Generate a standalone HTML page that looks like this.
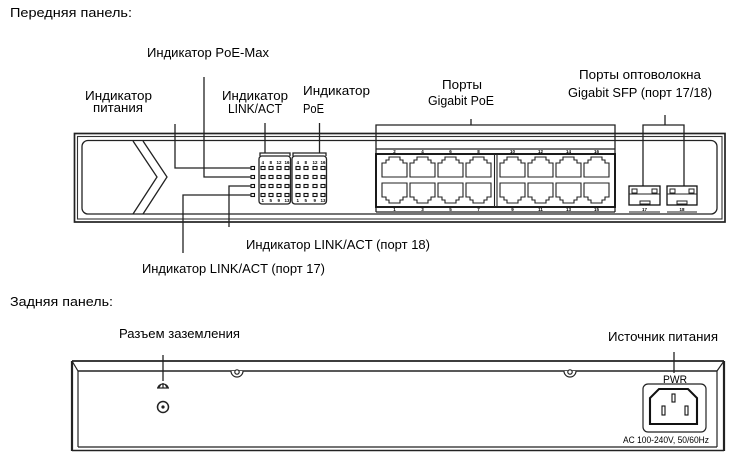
<!DOCTYPE html>
<html><head><meta charset="utf-8"><style>
html,body{margin:0;padding:0;background:#fff;}
svg{display:block;}
text{font-family:"Liberation Sans","Noto Sans CJK SC",sans-serif;fill:#000;}
.l{fill:none;stroke:#222;stroke-width:1.3;}
.t{font-size:13px;}
.n{font-size:4.5px;font-weight:bold;fill:#222;}
</style></head><body>
<svg width="739" height="459" viewBox="0 0 739 459" xmlns="http://www.w3.org/2000/svg">
<!-- labels top -->
<text class="t" x="10" y="17" textLength="122" lengthAdjust="spacingAndGlyphs">Передняя панель:</text>
<text class="t" x="147" y="57" textLength="122" lengthAdjust="spacingAndGlyphs">Индикатор PoE-Max</text>
<text class="t" x="85" y="100" textLength="67" lengthAdjust="spacingAndGlyphs">Индикатор</text>
<text class="t" x="93" y="112" textLength="50" lengthAdjust="spacingAndGlyphs">питания</text>
<text class="t" x="222" y="100" textLength="66" lengthAdjust="spacingAndGlyphs">Индикатор</text>
<text class="t" x="228" y="113" textLength="54" lengthAdjust="spacingAndGlyphs">LINK/ACT</text>
<text class="t" x="303" y="95" textLength="67" lengthAdjust="spacingAndGlyphs">Индикатор</text>
<text class="t" x="303" y="113" textLength="21" lengthAdjust="spacingAndGlyphs">PoE</text>
<text class="t" x="442" y="89" textLength="40" lengthAdjust="spacingAndGlyphs">Порты</text>
<text class="t" x="428" y="105" textLength="66" lengthAdjust="spacingAndGlyphs">Gigabit PoE</text>
<text class="t" x="579" y="79" textLength="122" lengthAdjust="spacingAndGlyphs">Порты оптоволокна</text>
<text class="t" x="568" y="97" textLength="144" lengthAdjust="spacingAndGlyphs">Gigabit SFP (порт 17/18)</text>
<text class="t" x="246" y="249" textLength="184" lengthAdjust="spacingAndGlyphs">Индикатор LINK/ACT (порт 18)</text>
<text class="t" x="142" y="273" textLength="183" lengthAdjust="spacingAndGlyphs">Индикатор LINK/ACT (порт 17)</text>
<text class="t" x="10" y="306" textLength="103" lengthAdjust="spacingAndGlyphs">Задняя панель:</text>
<text class="t" x="119" y="338" textLength="121" lengthAdjust="spacingAndGlyphs">Разъем заземления</text>
<text class="t" x="608" y="341" textLength="110" lengthAdjust="spacingAndGlyphs">Источник питания</text>

<!-- FRONT PANEL -->
<rect x="74.5" y="133.5" width="650.5" height="88.5" fill="none" stroke="#222" stroke-width="1.7"/>
<rect x="77.5" y="136.5" width="644.5" height="82.5" fill="none" stroke="#333" stroke-width="1.1"/>
<rect x="82" y="140.5" width="635" height="73.5" rx="6" fill="none" stroke="#222" stroke-width="1.3"/>
<polyline class="l" points="133,141 157,177 133,214"/>
<polyline class="l" points="143,141 167,177 143,214"/>

<!-- indicator blocks -->
<rect x="259" y="156" width="31.5" height="48" rx="3" fill="none" stroke="#222" stroke-width="1.3"/>
<rect x="292" y="156" width="34.5" height="48" rx="3" fill="none" stroke="#222" stroke-width="1.3"/>
<g fill="none" stroke="#111" stroke-width="1.1">
<rect x="261" y="166.5" width="4" height="3"/><rect x="269" y="166.5" width="4" height="3"/><rect x="277" y="166.5" width="4" height="3"/><rect x="285" y="166.5" width="4" height="3"/>
<rect x="261" y="175.5" width="4" height="3"/><rect x="269" y="175.5" width="4" height="3"/><rect x="277" y="175.5" width="4" height="3"/><rect x="285" y="175.5" width="4" height="3"/>
<rect x="261" y="184.5" width="4" height="3"/><rect x="269" y="184.5" width="4" height="3"/><rect x="277" y="184.5" width="4" height="3"/><rect x="285" y="184.5" width="4" height="3"/>
<rect x="261" y="193.5" width="4" height="3"/><rect x="269" y="193.5" width="4" height="3"/><rect x="277" y="193.5" width="4" height="3"/><rect x="285" y="193.5" width="4" height="3"/>
<rect x="296" y="166.5" width="4" height="3"/><rect x="304" y="166.5" width="4" height="3"/><rect x="313" y="166.5" width="4" height="3"/><rect x="321" y="166.5" width="4" height="3"/>
<rect x="296" y="175.5" width="4" height="3"/><rect x="304" y="175.5" width="4" height="3"/><rect x="313" y="175.5" width="4" height="3"/><rect x="321" y="175.5" width="4" height="3"/>
<rect x="296" y="184.5" width="4" height="3"/><rect x="304" y="184.5" width="4" height="3"/><rect x="313" y="184.5" width="4" height="3"/><rect x="321" y="184.5" width="4" height="3"/>
<rect x="296" y="193.5" width="4" height="3"/><rect x="304" y="193.5" width="4" height="3"/><rect x="313" y="193.5" width="4" height="3"/><rect x="321" y="193.5" width="4" height="3"/>
<rect x="251" y="166.5" width="3.5" height="3"/><rect x="251" y="175.5" width="3.5" height="3"/><rect x="251" y="184.5" width="3.5" height="3"/><rect x="251" y="193.5" width="3.5" height="3"/>
</g>
<g class="n">
<text x="261.5" y="164">4</text><text x="269.5" y="164">8</text><text x="276.5" y="164">12</text><text x="284.5" y="164">16</text>
<text x="296.5" y="164">4</text><text x="304.5" y="164">8</text><text x="312.5" y="164">12</text><text x="320.5" y="164">16</text>
<text x="261.5" y="202">1</text><text x="269.5" y="202">5</text><text x="277.5" y="202">9</text><text x="284.5" y="202">13</text>
<text x="296.5" y="202">1</text><text x="304.5" y="202">5</text><text x="313.5" y="202">9</text><text x="320.5" y="202">13</text>
</g>
<!-- brackets over blocks -->
<polyline class="l" points="260,156 260,153 290,153 290,156"/>
<line class="l" x1="265" y1="123" x2="265" y2="153"/>
<polyline class="l" points="293,156 293,153 326,153 326,156"/>
<line class="l" x1="319.5" y1="123" x2="319.5" y2="153"/>
<!-- connector lines -->
<polyline class="l" points="175,124 175,168 251,168"/>
<polyline class="l" points="204,77 204,177 251,177"/>
<polyline class="l" points="251,186 229,186 229,227"/>
<polyline class="l" points="251,195 183,195 183,253"/>

<!-- RJ45 block -->
<polyline class="l" points="376,148 376,125 615,125 615,148"/>
<line class="l" x1="471" y1="119" x2="471" y2="125"/>
<line class="l" x1="376" y1="149" x2="615" y2="149"/>
<line class="l" x1="376" y1="212" x2="615" y2="212"/>
<line class="l" x1="376" y1="148" x2="376" y2="212"/>
<line class="l" x1="615" y1="148" x2="615" y2="212"/>
<rect x="376" y="154" width="239" height="53" fill="none" stroke="#111" stroke-width="1.9"/>
<line x1="494.5" y1="154" x2="494.5" y2="207" stroke="#222" stroke-width="1.1"/>
<line x1="497" y1="154" x2="497" y2="207" stroke="#222" stroke-width="1.1"/>
<g fill="none" stroke="#222" stroke-width="1.1">
<path d="M382,177V163H386V160H389V157H400V160H403V163H407V177Z"/>
<path d="M410,177V163H414V160H417V157H428V160H431V163H435V177Z"/>
<path d="M438,177V163H442V160H445V157H456V160H459V163H463V177Z"/>
<path d="M466,177V163H470V160H473V157H484V160H487V163H491V177Z"/>
<path d="M500,177V163H504V160H507V157H518V160H521V163H525V177Z"/>
<path d="M528,177V163H532V160H535V157H546V160H549V163H553V177Z"/>
<path d="M556,177V163H560V160H563V157H574V160H577V163H581V177Z"/>
<path d="M584,177V163H588V160H591V157H602V160H605V163H609V177Z"/>
<path d="M382,183V197H386V200H389V203H400V200H403V197H407V183Z"/>
<path d="M410,183V197H414V200H417V203H428V200H431V197H435V183Z"/>
<path d="M438,183V197H442V200H445V203H456V200H459V197H463V183Z"/>
<path d="M466,183V197H470V200H473V203H484V200H487V197H491V183Z"/>
<path d="M500,183V197H504V200H507V203H518V200H521V197H525V183Z"/>
<path d="M528,183V197H532V200H535V203H546V200H549V197H553V183Z"/>
<path d="M556,183V197H560V200H563V203H574V200H577V197H581V183Z"/>
<path d="M584,183V197H588V200H591V203H602V200H605V197H609V183Z"/>
</g>
<g class="n" text-anchor="middle">
<text x="394.5" y="153">2</text><text x="422.5" y="153">4</text><text x="450.5" y="153">6</text><text x="478.5" y="153">8</text>
<text x="512.5" y="153">10</text><text x="540.5" y="153">12</text><text x="568.5" y="153">14</text><text x="596.5" y="153">16</text>
<text x="394.5" y="211">1</text><text x="422.5" y="211">3</text><text x="450.5" y="211">5</text><text x="478.5" y="211">7</text>
<text x="512.5" y="211">9</text><text x="540.5" y="211">11</text><text x="568.5" y="211">13</text><text x="596.5" y="211">15</text>
</g>

<!-- SFP -->
<polyline class="l" points="643,186 643,125 684,125 684,186"/>
<line class="l" x1="665" y1="115" x2="665" y2="125"/>
<g fill="none" stroke="#111" stroke-width="1.3">
<rect x="629" y="186" width="31" height="19"/>
<rect x="667" y="186" width="30" height="19"/>
</g>
<g fill="none" stroke="#222" stroke-width="1">
<rect x="632" y="189" width="5" height="4"/><rect x="652" y="189" width="5" height="4"/>
<line x1="629" y1="194" x2="660" y2="194"/>
<rect x="640" y="201" width="10" height="3"/>
<rect x="670" y="189" width="5" height="4"/><rect x="689" y="189" width="5" height="4"/>
<line x1="667" y1="194" x2="697" y2="194"/>
<rect x="677" y="201" width="10" height="3"/>
<line x1="629" y1="212" x2="660" y2="212"/>
<line x1="667" y1="212" x2="697" y2="212"/>
</g>
<g class="n" text-anchor="middle">
<text x="644.5" y="211">17</text><text x="682" y="211">18</text>
</g>

<!-- REAR PANEL -->
<line class="l" x1="163" y1="355" x2="163" y2="381"/>
<line class="l" x1="674" y1="352" x2="674" y2="373"/>
<g fill="none" stroke="#222">
<line x1="72" y1="361" x2="724" y2="361" stroke-width="1.7"/>
<line x1="72" y1="361" x2="72" y2="451" stroke-width="2.2"/>
<line x1="724" y1="361" x2="724" y2="451" stroke-width="2.2"/>
<line x1="72" y1="450.5" x2="724" y2="450.5" stroke-width="1.5"/>
<line x1="78" y1="371" x2="717" y2="371" stroke-width="1.4"/>
<line x1="78" y1="371" x2="78" y2="447" stroke-width="1.2"/>
<line x1="717" y1="371" x2="717" y2="447" stroke-width="1.2"/>
<line x1="78" y1="447" x2="717" y2="447" stroke-width="1.2"/>
<line x1="72" y1="361" x2="78" y2="371" stroke-width="1.2"/>
<line x1="724" y1="361" x2="717" y2="371" stroke-width="1.2"/>
</g>
<!-- screws -->
<g fill="#fff" stroke="#222" stroke-width="1.2">
<path d="M231,371 A6,6 0 0 0 243,371"/>
<circle cx="237" cy="372" r="2.2"/>
<path d="M564,371 A6,6 0 0 0 576,371"/>
<circle cx="570" cy="372" r="2.2"/>
</g>
<!-- ground -->
<g fill="none" stroke="#222" stroke-width="1.2">
<path d="M158,388 A5,4 0 0 1 168,388"/>
<line x1="157" y1="388" x2="169" y2="388"/>
<line x1="163" y1="383" x2="163" y2="388"/>
<line x1="160.5" y1="385" x2="158.5" y2="388"/>
<line x1="165.5" y1="385" x2="167.5" y2="388"/>
<circle cx="163" cy="407" r="5.5" stroke-width="1.5"/>
</g>
<circle cx="163" cy="407" r="1.6" fill="#222"/>
<!-- power -->
<text x="675" y="383" text-anchor="middle" style="font-size:11px" textLength="24" lengthAdjust="spacingAndGlyphs">PWR</text>
<rect x="643" y="384" width="63" height="48" rx="5" fill="none" stroke="#222" stroke-width="1.2"/>
<path d="M650,424V398L659,389H688L697,398V424Z" fill="none" stroke="#111" stroke-width="2.1"/>
<rect x="672" y="394" width="3" height="8" fill="none" stroke="#111" stroke-width="1.1"/>
<rect x="662" y="406" width="3" height="9" fill="none" stroke="#111" stroke-width="1.1"/>
<rect x="685" y="406" width="3" height="9" fill="none" stroke="#111" stroke-width="1.1"/>
<text x="623" y="443" style="font-size:9px" textLength="86" lengthAdjust="spacingAndGlyphs">AC 100-240V, 50/60Hz</text>
</svg>
</body></html>
